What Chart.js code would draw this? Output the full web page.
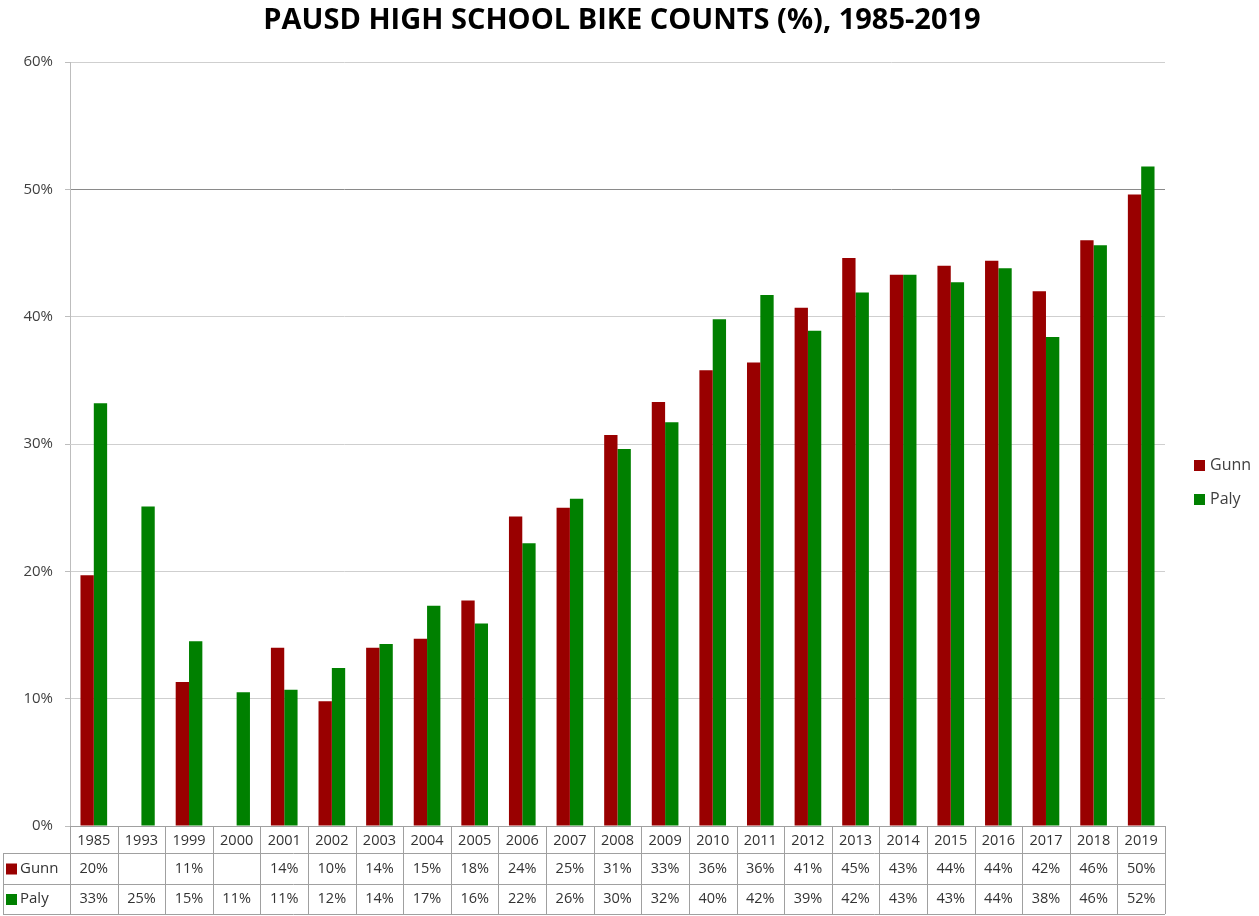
<!DOCTYPE html>
<html>
<head>
<meta charset="utf-8">
<title>PAUSD High School Bike Counts</title>
<script src="https://cdn.jsdelivr.net/npm/chart.js@4"></script>
<style>
  body { margin: 0; background: #fff; }
  canvas { display: block; }
</style>
</head>
<body>
<canvas id="bikeChart" width="1259" height="916"></canvas>
<script>
// values (percent of students biking)
const years = ['1985', '1993', '1999', '2000', '2001', '2002', '2003', '2004', '2005', '2006', '2007', '2008',
               '2009', '2010', '2011', '2012', '2013', '2014', '2015', '2016', '2017', '2018', '2019'];
const gunn = [19.7, null, 11.3, null, 14.0, 9.8, 14.0, 14.7, 17.7, 24.3, 25.0, 30.7,
              33.3, 35.8, 36.4, 40.7, 44.6, 43.3, 44.0, 44.4, 42.0, 46.0, 49.6];
const paly = [33.2, 25.1, 14.5, 10.5, 10.7, 12.4, 14.3, 17.3, 15.9, 22.2, 25.7, 29.6,
              31.7, 39.8, 41.7, 38.9, 41.9, 43.3, 42.7, 43.8, 38.4, 45.6, 51.8];
// data table under the chart
const gunnLabels = ['20%', '', '11%', '', '14%', '10%', '14%', '15%', '18%', '24%', '25%', '31%',
                    '33%', '36%', '36%', '41%', '45%', '43%', '44%', '44%', '42%', '46%', '50%'];
const palyLabels = ['33%', '25%', '15%', '11%', '11%', '12%', '14%', '17%', '16%', '22%', '26%', '30%',
                    '32%', '40%', '42%', '39%', '42%', '43%', '43%', '44%', '38%', '46%', '52%'];
const yTicks = [0, 10, 20, 30, 40, 50, 60];
const seriesNames = ['Gunn', 'Paly'];

const RED = '#990000';
const GREEN = '#008000';
const FONT = '"Open Sans", "Liberation Sans", sans-serif';

// title, legend on the right and data table below the axis
const extras = {
    id: 'extras',
    afterDraw(chart) {
        const ctx = chart.ctx;
        const area = chart.chartArea;
        const xs = chart.scales.x;
        const colW = (area.right - area.left) / years.length;
        ctx.save();

        // title
        ctx.fillStyle = '#000';
        ctx.font = 'bold 29px ' + FONT;
        ctx.textAlign = 'center';
        ctx.textBaseline = 'middle';
        ctx.fillText('PAUSD HIGH SCHOOL BIKE COUNTS (%), 1985-2019', 622, 21);

        // legend
        ctx.font = '16px ' + FONT;
        ctx.textAlign = 'left';
        [[RED, 465], [GREEN, 499]].forEach(([c, y], i) => {
            ctx.fillStyle = c;
            ctx.fillRect(1194, y - 5, 11, 11);
            ctx.fillStyle = '#404040';
            ctx.fillText(seriesNames[i], 1210, y);
        });

        // table grid
        const top = area.bottom;
        const rows = [top, top + 27, top + 58, top + 88];
        ctx.strokeStyle = '#a0a0a0';
        ctx.lineWidth = 1;
        ctx.beginPath();
        for (let i = 0; i <= years.length; i++) {
            const x = Math.round(area.left + i * colW) + 0.5;
            ctx.moveTo(x, rows[0]);
            ctx.lineTo(x, rows[3]);
        }
        ctx.moveTo(area.left, rows[0] + 0.5);
        ctx.lineTo(area.right, rows[0] + 0.5);
        for (let r = 1; r < 4; r++) {
            ctx.moveTo(3, rows[r] + 0.5);
            ctx.lineTo(area.right, rows[r] + 0.5);
        }
        ctx.moveTo(3.5, rows[1]);
        ctx.lineTo(3.5, rows[3]);
        ctx.stroke();

        // table text
        ctx.font = '14.5px ' + FONT;
        ctx.fillStyle = '#333';
        ctx.textAlign = 'center';
        const mids = [(rows[0] + rows[1]) / 2 + 1, (rows[1] + rows[2]) / 2, (rows[2] + rows[3]) / 2];
        years.forEach((yr, i) => {
            const x = xs.getPixelForValue(i);
            ctx.fillText(yr, x, mids[0]);
            ctx.fillText(gunnLabels[i], x, mids[1]);
            ctx.fillText(palyLabels[i], x, mids[2]);
        });

        // row headers with keys
        ctx.font = '15px ' + FONT;
        ctx.textAlign = 'left';
        [[RED, mids[1]], [GREEN, mids[2]]].forEach(([c, y], i) => {
            ctx.fillStyle = c;
            ctx.fillRect(6, y - 5, 11, 11);
            ctx.fillStyle = '#333';
            ctx.fillText(seriesNames[i], 20, y);
        });
        ctx.restore();
    }
};

new Chart(document.getElementById('bikeChart'), {
    type: 'bar',
    data: {
        labels: years,
        datasets: [
            { label: seriesNames[0], data: gunn, backgroundColor: RED },
            { label: seriesNames[1], data: paly, backgroundColor: GREEN }
        ]
    },
    options: {
        responsive: false,
        animation: false,
        devicePixelRatio: 1,
        layout: { padding: { top: 62, left: 0, right: 94, bottom: 90 } },
        datasets: { bar: { categoryPercentage: 0.56, barPercentage: 1.0 } },
        plugins: {
            legend: { display: false },
            title: { display: false },
            tooltip: { enabled: false }
        },
        scales: {
            x: {
                grid: { display: false },
                border: { display: false },
                ticks: { display: false },
                afterFit: s => { s.height = 0; }
            },
            y: {
                min: 0,
                max: 60,
                afterBuildTicks: s => { s.ticks = yTicks.map(v => ({ value: v })); },
                afterFit: s => { s.width = 70; },
                border: { color: '#bdbdbd' },
                grid: {
                    color: c => c.tick && c.tick.value === 50 ? '#8a8a8a' : '#cfcfcf',
                    tickColor: '#bdbdbd',
                    tickLength: 5
                },
                ticks: {
                    padding: 12,
                    color: '#404040',
                    font: { family: FONT, size: 15 },
                    callback: v => v + '%'
                }
            }
        }
    },
    plugins: [extras]
});
</script>
</body>
</html>
